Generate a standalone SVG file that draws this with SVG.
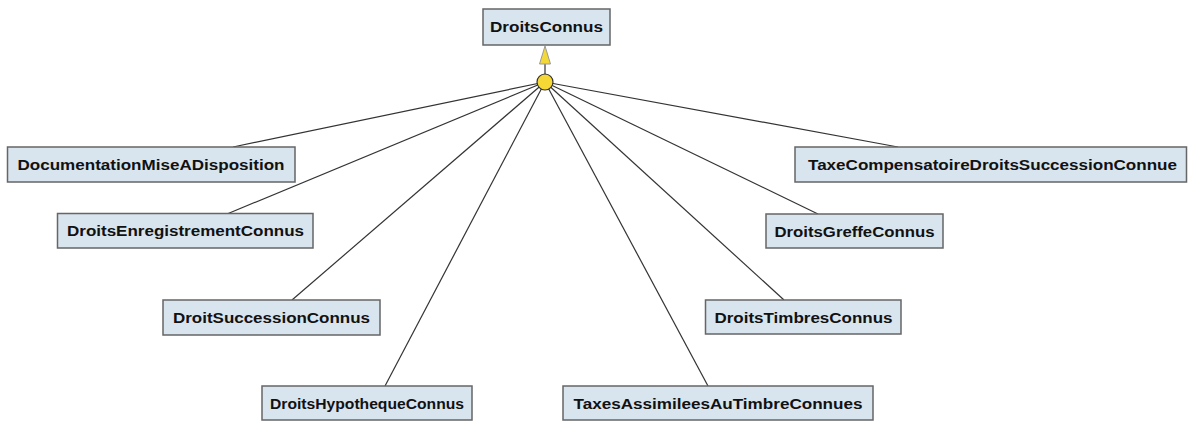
<svg xmlns="http://www.w3.org/2000/svg" width="1188" height="421" viewBox="0 0 1188 421">
  <style>
    .box { fill: #d8e4ee; stroke: #666666; stroke-width: 1.5; }
    .lbl { font-family: "Liberation Sans", Arial, sans-serif; font-weight: bold; font-size: 14px; fill: #111; text-anchor: middle; }
    .edge { stroke: #333; stroke-width: 1.2; fill: none; }
  </style>
  <rect width="1188" height="421" fill="#ffffff"/>

  <!-- generalization connectors: all children meet at the junction dot -->
  <g id="connectors">
    <line class="edge" x1="545" y1="82" x2="233" y2="147"/>
    <line class="edge" x1="545" y1="82" x2="227" y2="214"/>
    <line class="edge" x1="545" y1="82" x2="292" y2="300"/>
    <line class="edge" x1="545" y1="82" x2="385" y2="386"/>
    <line class="edge" x1="545" y1="82" x2="708" y2="386"/>
    <line class="edge" x1="545" y1="82" x2="784" y2="300"/>
    <line class="edge" x1="545" y1="82" x2="818" y2="214"/>
    <line class="edge" x1="545" y1="82" x2="898" y2="147"/>
    <line class="edge" x1="545" y1="82" x2="545" y2="64"/>
    <!-- inheritance arrowhead -->
    <polygon points="545,46 539.5,64 550.5,64" fill="#f3d83a" stroke="#9a9a9a" stroke-width="1"/>
    <!-- junction dot -->
    <circle cx="545" cy="82" r="8" fill="#f5d836" stroke="#333" stroke-width="1.2"/>
  </g>

  <g id="DroitsConnus">
    <rect class="box" x="483" y="9" width="127" height="36"/>
    <text class="lbl" x="546.5" y="32" textLength="113" lengthAdjust="spacingAndGlyphs">DroitsConnus</text>
  </g>

  <g id="DocumentationMiseADisposition">
    <rect class="box" x="7.5" y="147" width="287.5" height="35"/>
    <text class="lbl" x="151" y="170" textLength="267" lengthAdjust="spacingAndGlyphs">DocumentationMiseADisposition</text>
  </g>

  <g id="DroitsEnregistrementConnus">
    <rect class="box" x="57.5" y="213.5" width="255.5" height="34.5"/>
    <text class="lbl" x="185.5" y="236" textLength="237" lengthAdjust="spacingAndGlyphs">DroitsEnregistrementConnus</text>
  </g>

  <g id="DroitSuccessionConnus">
    <rect class="box" x="163" y="300" width="217" height="35"/>
    <text class="lbl" x="271.5" y="323" textLength="197" lengthAdjust="spacingAndGlyphs">DroitSuccessionConnus</text>
  </g>

  <g id="DroitsHypothequeConnus">
    <rect class="box" x="262" y="386" width="210" height="34"/>
    <text class="lbl" x="367" y="408.5" textLength="194" lengthAdjust="spacingAndGlyphs">DroitsHypothequeConnus</text>
  </g>

  <g id="TaxesAssimileesAuTimbreConnues">
    <rect class="box" x="563" y="386" width="310" height="34"/>
    <text class="lbl" x="718" y="408.5" textLength="289" lengthAdjust="spacingAndGlyphs">TaxesAssimileesAuTimbreConnues</text>
  </g>

  <g id="DroitsTimbresConnus">
    <rect class="box" x="705.5" y="300" width="195.5" height="34"/>
    <text class="lbl" x="803.5" y="322.5" textLength="178" lengthAdjust="spacingAndGlyphs">DroitsTimbresConnus</text>
  </g>

  <g id="DroitsGreffeConnus">
    <rect class="box" x="766" y="214" width="177" height="34"/>
    <text class="lbl" x="854.5" y="236.5" textLength="160" lengthAdjust="spacingAndGlyphs">DroitsGreffeConnus</text>
  </g>

  <g id="TaxeCompensatoireDroitsSuccessionConnue">
    <rect class="box" x="795" y="147" width="391.5" height="35"/>
    <text class="lbl" x="992.5" y="170" textLength="369" lengthAdjust="spacingAndGlyphs">TaxeCompensatoireDroitsSuccessionConnue</text>
  </g>
</svg>
